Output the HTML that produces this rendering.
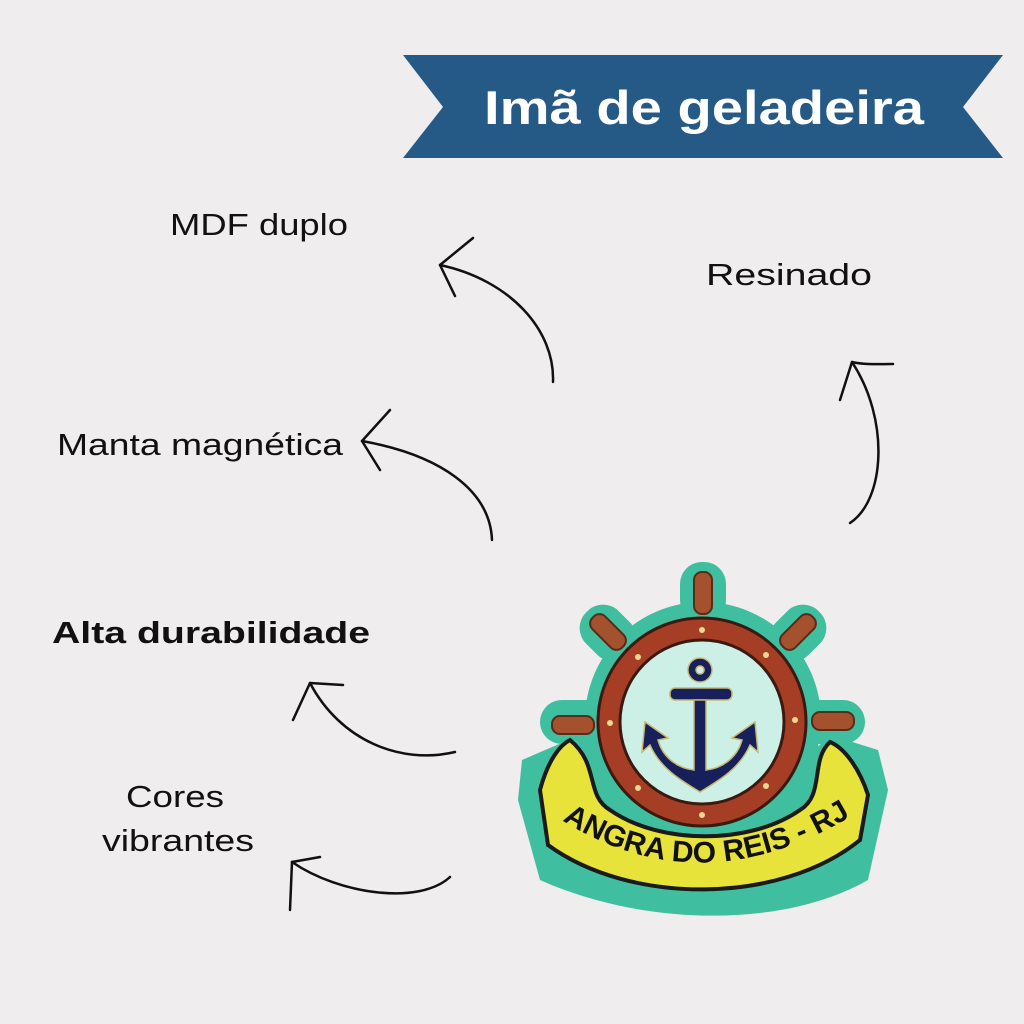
<!DOCTYPE html>
<html><head><meta charset="utf-8"><style>
html,body{margin:0;padding:0;background:#efedee;}
svg{display:block}
text{font-family:"Liberation Sans","DejaVu Sans",sans-serif;}
</style></head><body>
<svg width="1024" height="1024" viewBox="0 0 1024 1024" xmlns="http://www.w3.org/2000/svg">
<rect width="1024" height="1024" fill="#efedee"/>
<polygon points="403,55 1003,55 963,107 1003,158 403,158 443,107" fill="#245a85"/>
<text x="704" y="124" text-anchor="middle" font-size="47" font-weight="bold" fill="#fff" textLength="440" lengthAdjust="spacingAndGlyphs">Imã de geladeira</text>

<g fill="#111" font-size="31">
<text x="170" y="235" textLength="178" lengthAdjust="spacingAndGlyphs">MDF duplo</text>
<text x="706" y="285" textLength="166" lengthAdjust="spacingAndGlyphs">Resinado</text>
<text x="57" y="455" textLength="286" lengthAdjust="spacingAndGlyphs">Manta magnética</text>
<text x="52" y="643" font-weight="bold" textLength="318" lengthAdjust="spacingAndGlyphs">Alta durabilidade</text>
<text x="175" y="807" text-anchor="middle" textLength="98" lengthAdjust="spacingAndGlyphs">Cores</text>
<text x="178" y="851" text-anchor="middle" textLength="152" lengthAdjust="spacingAndGlyphs">vibrantes</text>
</g>

<g fill="none" stroke="#111" stroke-width="2.5" stroke-linecap="round">
<path d="M553,382 C555,330 510,280 440,265"/><path d="M440,265 L473,238 M440,265 L455,296"/>
<path d="M492,540 C490,490 440,455 362,441"/><path d="M362,441 L390,410 M362,441 L380,470"/>
<path d="M850,523 C885,500 890,420 852,362"/><path d="M852,362 C865,365 880,364 893,364 M852,362 L840,400"/>
<path d="M455,752 C400,765 340,740 310,683"/><path d="M310,683 L343,685 M310,683 L293,720"/>
<path d="M450,877 C420,905 340,895 292,862"/><path d="M292,862 L320,857 M292,862 L290,910"/>
</g>

<g>
<g fill="#3fbf9f">
<rect x="680" y="562" width="46" height="60" rx="22"/>
<circle cx="703" cy="720" r="118"/>
<rect x="585" y="603" width="46" height="60" rx="22" transform="rotate(-45 608 633)"/>
<rect x="775" y="603" width="46" height="60" rx="22" transform="rotate(45 798 633)"/>
<rect x="540" y="700" width="80" height="44" rx="22"/>
<rect x="790" y="700" width="75" height="44" rx="22"/>
<path d="M522,760 L580,735 C640,800 770,800 830,735 L878,750 L888,790 L868,880 C780,930 640,925 540,880 L518,800 Z"/>
</g>
<g fill="#a4512e" stroke="#5a2a18" stroke-width="2">
<rect x="694" y="572" width="18" height="42" rx="8"/>
<rect x="599" y="611" width="18" height="42" rx="8" transform="rotate(-45 608 632)"/>
<rect x="789" y="611" width="18" height="42" rx="8" transform="rotate(45 798 632)"/>
<rect x="552" y="716" width="42" height="18" rx="8"/>
<rect x="812" y="712" width="42" height="18" rx="8"/>
</g>
<circle cx="702" cy="722" r="104" fill="#a63d25" stroke="#3a1a10" stroke-width="3"/>
<circle cx="702" cy="722" r="82" fill="#cdf0e6" stroke="#3a1a10" stroke-width="3"/>
<g fill="#e8d890">
<circle cx="702" cy="630" r="3"/><circle cx="766" cy="655" r="3"/><circle cx="638" cy="657" r="3"/>
<circle cx="610" cy="723" r="3"/><circle cx="795" cy="720" r="3"/><circle cx="638" cy="788" r="3"/><circle cx="766" cy="786" r="3"/><circle cx="702" cy="815" r="3"/>
</g>
<g fill="#17205a" stroke="#c8b870" stroke-width="1.5">
<path d="M700,658 a12,12 0 1,1 -0.1,0 Z M700,666 a4,4 0 1,0 0.1,0 Z" fill-rule="evenodd"/>
<rect x="670" y="688" width="62" height="12" rx="5"/>
<path d="M694,700 L706,700 L706,770 C725,768 738,755 742,740 L732,738 L755,722 L758,752 L750,745 C740,768 720,780 700,792 C680,780 660,768 650,745 L642,752 L645,722 L668,738 L658,740 C662,755 675,768 694,770 Z"/>
</g>
<path d="M540,790 C548,760 560,745 570,740 C600,765 585,795 610,810 C660,845 750,845 800,810 C825,795 810,760 830,742 C845,748 860,770 868,795 L860,840 C780,905 630,905 548,845 Z" fill="#e7e33a" stroke="#1a1a1a" stroke-width="4"/>
<path id="arc" d="M565,822 Q700,905 848,818" fill="none"/>
<text font-size="30" font-weight="bold" fill="#111"><textPath href="#arc" startOffset="50%" text-anchor="middle">ANGRA DO REIS - RJ</textPath></text>
</g>
</svg>
</body></html>
